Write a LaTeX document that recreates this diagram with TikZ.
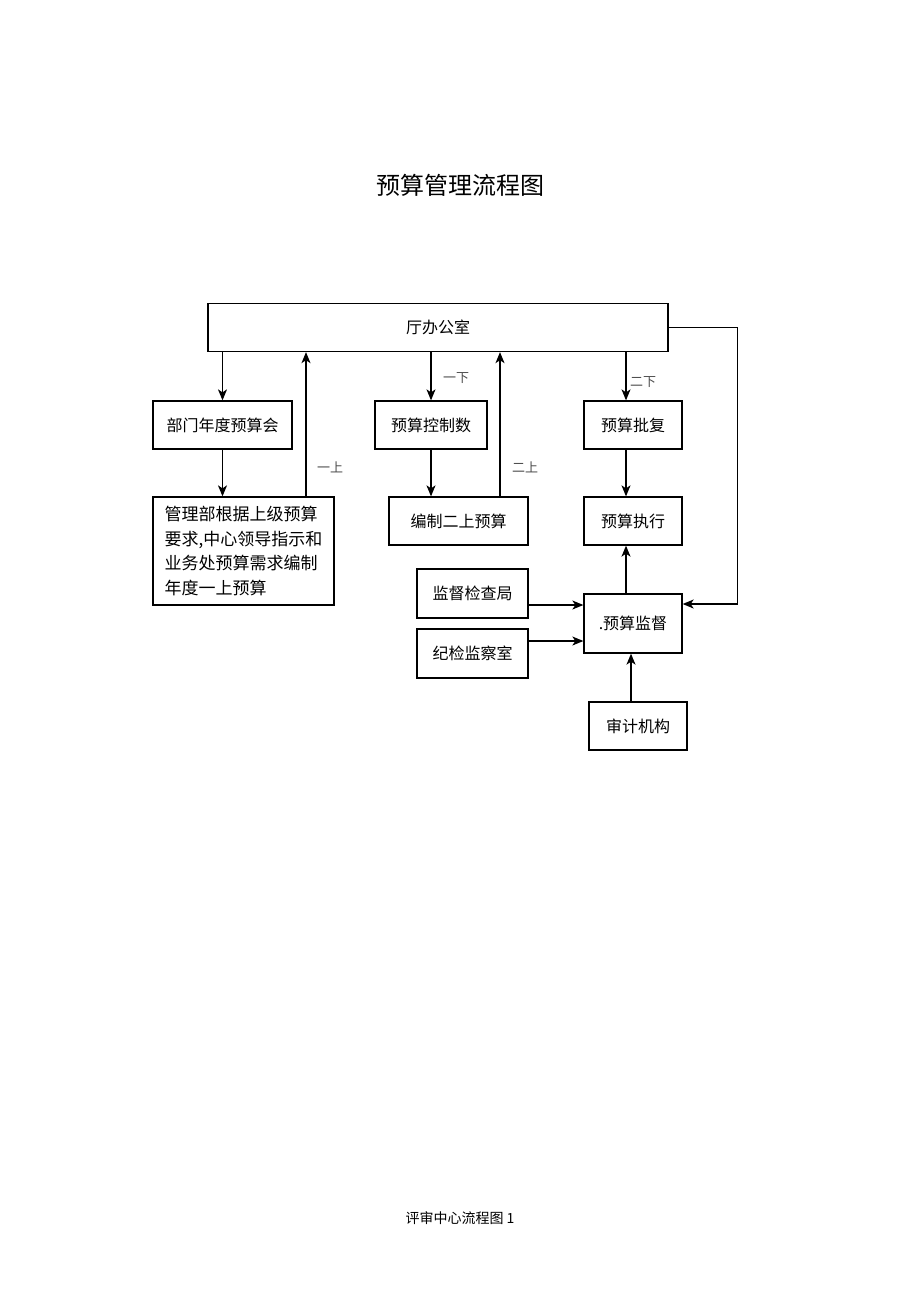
\documentclass[tikz,border=0pt]{standalone}
\usepackage{fontspec}
\setmainfont{Noto Sans CJK SC}
\usetikzlibrary{arrows.meta}
\definecolor{lg}{rgb}{.3,.3,.3}

\begin{document}
\begin{tikzpicture}
  [x=1pt, y=-1pt, line width=1.2pt,
   >={Stealth[length=11pt,width=9pt,inset=3pt]},
   box/.style={draw, line width=1.3pt, inner sep=0pt,
     font=\fontsize{16}{19}\selectfont}]
    \useasboundingbox (0,0) rectangle (920,1302);
    \node (title) at (460,185) {\fontsize{24}{28}\selectfont 预算管理流程图};
    \node[box, minimum width=460pt, minimum height=48pt] (top) at (438,327.5) {厅办公室};
    \foreach \num/\x/\y/\w/\h/\txt in {1/222.5/425/139/48/部门年度预算会,
        3/431/425/112/48/预算控制数, 4/458.5/521/139/48/编制二上预算,
        5/633/425/98/48/预算批复, 6/633/521/98/48/预算执行,
        7/633/623.5/98/59/.预算监督, 8/472.5/593.5/111/49/监督检查局,
        9/472.5/653.5/111/49/纪检监察室, 10/638/726/98/48/审计机构}{
      \node[box, minimum width=\w pt, minimum height=\h pt]
      (b\num) at (\x,\y) {\txt}; }
    \node[box, minimum width=181pt, minimum height=108pt, align=left,
      font=\fontsize{17}{24.5}\selectfont]
      (b2) at (243.5,551) {管理部根据上级预算\\要求,中心领导指示和\\业务处预算需求编制\\年度一上预算};
    \foreach \x/\y/\txt in {330/467/一上,456/378/一下,525/467/二上,643/382/二下}{
      \node[text=lg, font=\fontsize{13}{15}\selectfont]
      (lab\x) at (\x,\y) {\txt}; }
    \node (foot) at (460,1218) {\fontsize{14}{16}\selectfont 评审中心流程图 1};
    \foreach \from/\to/\dx in {top/b1/0,top/b3/0,top/b5/-7,
                  b1/b2/-21,b3/b4/-27.5,b5/b6/-7}{
      \draw[->] ([xshift=\dx pt]\to.north |- \from.south) -- ([xshift=\dx pt]\to.north);}
    \foreach \from/\dx in {b2/62.5,b4/41.5}{
      \draw[->] ([xshift=\dx pt]\from.north) -- ([xshift=\dx pt]\from.north |- top.south);}
    \foreach \from/\to/\dx in {b7/b6/-7,b10/b7/-7}{
      \draw[->] ([xshift=\dx pt]\from.north) -- ([xshift=\dx pt]\from.north |- \to.south);}
    \draw[->] (top.east) -- ++(69,0) |- ([yshift=19.5pt]b7.east);
    \draw[->] ([yshift=-11.5pt]b8.east) -- ([yshift=-11.5pt]b8.east -| b7.west);
    \draw[->] ([yshift=12.5pt]b9.east) -- ([yshift=12.5pt]b9.east -| b7.west);
  \end{tikzpicture}
\end{document}
